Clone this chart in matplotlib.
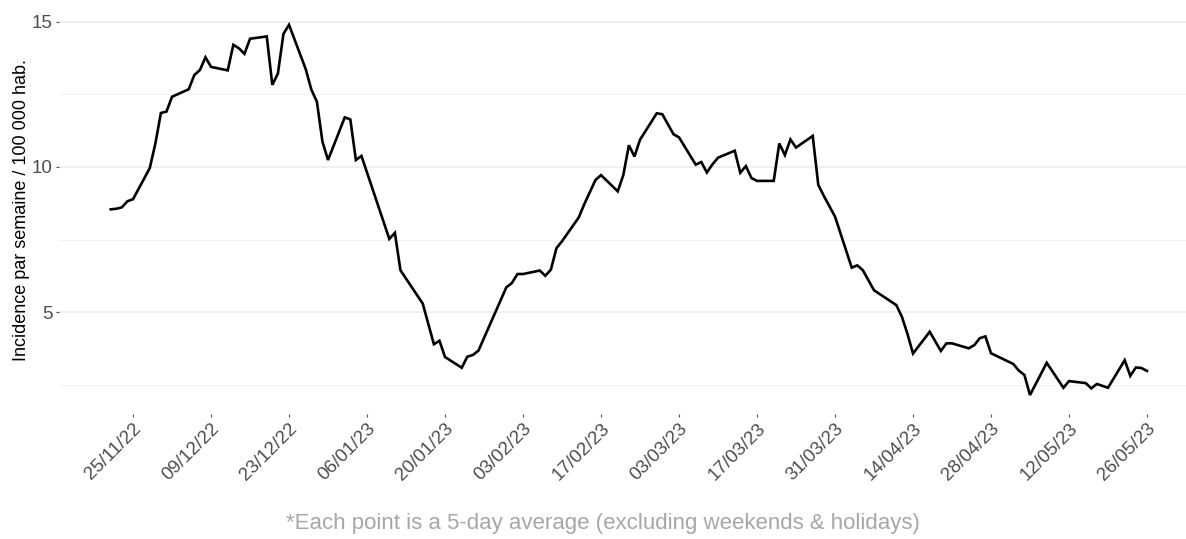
import pandas as pd
import matplotlib
matplotlib.use("Agg")
import matplotlib.pyplot as plt
import matplotlib.dates as mdates
from matplotlib.ticker import MultipleLocator

plt.rcParams['font.family'] = ['Liberation Sans', 'DejaVu Sans']

# business-day points (5-day averages)
dates = [
    "2022-11-21", "2022-11-22", "2022-11-23", "2022-11-24", "2022-11-25",
    "2022-11-28", "2022-11-29", "2022-11-30", "2022-12-01", "2022-12-02",
    "2022-12-05", "2022-12-06", "2022-12-07", "2022-12-08", "2022-12-09",
    "2022-12-12", "2022-12-13", "2022-12-14", "2022-12-15", "2022-12-16",
    "2022-12-19", "2022-12-20", "2022-12-21", "2022-12-22", "2022-12-23",
    "2022-12-26", "2022-12-27", "2022-12-28", "2022-12-29", "2022-12-30",
    "2023-01-02", "2023-01-03", "2023-01-04", "2023-01-05", "2023-01-10",
    "2023-01-11", "2023-01-12", "2023-01-16", "2023-01-18", "2023-01-19",
    "2023-01-20", "2023-01-23", "2023-01-24", "2023-01-25", "2023-01-26",
    "2023-01-31", "2023-02-01", "2023-02-02", "2023-02-03", "2023-02-06",
    "2023-02-07", "2023-02-08", "2023-02-09", "2023-02-10", "2023-02-13",
    "2023-02-14", "2023-02-16", "2023-02-17", "2023-02-20", "2023-02-21",
    "2023-02-22", "2023-02-23", "2023-02-24", "2023-02-27", "2023-02-28",
    "2023-03-02", "2023-03-03", "2023-03-06", "2023-03-07", "2023-03-08",
    "2023-03-09", "2023-03-10", "2023-03-13", "2023-03-14", "2023-03-15",
    "2023-03-16", "2023-03-17", "2023-03-20", "2023-03-21", "2023-03-22",
    "2023-03-23", "2023-03-24", "2023-03-27", "2023-03-28", "2023-03-29",
    "2023-03-31", "2023-04-03", "2023-04-04", "2023-04-05", "2023-04-07",
    "2023-04-11", "2023-04-12", "2023-04-13", "2023-04-14", "2023-04-17",
    "2023-04-19", "2023-04-20", "2023-04-21", "2023-04-24", "2023-04-25",
    "2023-04-26", "2023-04-27", "2023-04-28", "2023-05-02", "2023-05-03",
    "2023-05-04", "2023-05-05", "2023-05-08", "2023-05-11", "2023-05-12",
    "2023-05-15", "2023-05-16", "2023-05-17", "2023-05-19", "2023-05-22",
    "2023-05-23", "2023-05-24", "2023-05-25", "2023-05-26",
]
incidence = [
    8.54, 8.56, 8.61, 8.82, 8.89,
    9.96, 10.80, 11.86, 11.91, 12.42,
    12.68, 13.17, 13.34, 13.78, 13.45,
    13.33, 14.21, 14.09, 13.90, 14.42,
    14.50, 12.83, 13.22, 14.59, 14.90,
    13.37, 12.67, 12.25, 10.87, 10.24,
    11.71, 11.64, 10.24, 10.38, 7.52,
    7.73, 6.44, 5.29, 3.89, 4.01,
    3.45, 3.08, 3.46, 3.52, 3.67,
    5.85, 6.00, 6.31, 6.31, 6.43,
    6.25, 6.46, 7.20, 7.44, 8.26,
    8.72, 9.55, 9.72, 9.16, 9.72,
    10.75, 10.36, 10.94, 11.85, 11.82,
    11.13, 11.02, 10.08, 10.17, 9.81,
    10.09, 10.32, 10.56, 9.80, 10.03,
    9.62, 9.52, 9.52, 10.81, 10.41,
    10.95, 10.67, 11.07, 9.38, 9.00,
    8.29, 6.53, 6.61, 6.44, 5.75,
    5.24, 4.84, 4.25, 3.57, 4.32,
    3.66, 3.92, 3.92, 3.75, 3.86,
    4.10, 4.16, 3.58, 3.21, 2.98,
    2.83, 2.14, 3.25, 2.39, 2.62,
    2.55, 2.37, 2.52, 2.39, 3.34,
    2.80, 3.09, 3.07, 2.97,
]
tick_dates = ["2022-11-25", "2022-12-09", "2022-12-23", "2023-01-06", "2023-01-20",
              "2023-02-03", "2023-02-17", "2023-03-03", "2023-03-17", "2023-03-31",
              "2023-04-14", "2023-04-28", "2023-05-12", "2023-05-26"]
caption = "*Each point is a 5-day average (excluding weekends & holidays)"

x = pd.to_datetime(dates)
ticks = pd.to_datetime(tick_dates)

fig = plt.figure(figsize=(11.86, 5.39), dpi=100)
ax = fig.add_axes([0.0497, 0.2328, 0.9611, 0.7555])

ax.plot(x, incidence, color='black', lw=1.9, solid_joinstyle='miter')

# ggplot-like 5% expansion
x0, x1 = mdates.date2num(x.min()), mdates.date2num(x.max())
pad = (x1 - x0) * 0.05
ax.set_xlim(x0 - pad, x1 + pad)
y0, y1 = min(incidence), max(incidence)
ax.set_ylim(y0 - (y1 - y0) * 0.05, y1 + (y1 - y0) * 0.05)

ax.set_xticks(ticks)
ax.xaxis.set_major_formatter(mdates.DateFormatter('%d/%m/%y'))
ax.yaxis.set_major_locator(MultipleLocator(5))
ax.yaxis.set_minor_locator(MultipleLocator(2.5))

ax.grid(axis='y', which='major', color='#EBEBEB', lw=1.1)
ax.grid(axis='y', which='minor', color='#F2F2F2', lw=0.8)
ax.grid(axis='x', visible=False)
ax.set_axisbelow(True)
for s in ax.spines.values():
    s.set_visible(False)

ax.tick_params(axis='both', which='major', length=2.5, width=0.8, color='#4D4D4D',
               labelcolor='#4D4D4D', labelsize=13.5, pad=2)
ax.tick_params(axis='y', which='minor', length=0)
plt.setp(ax.get_xticklabels(), rotation=45, ha='right', va='top', rotation_mode='anchor')

ax.set_ylabel('Incidence par semaine / 100 000 hab.', fontsize=13, color='black', labelpad=1)
fig.text(0.508, 0.028, caption, ha='center', va='center', fontsize=16, color='#A6A6A6')

fig.savefig('out.png', dpi=100)
